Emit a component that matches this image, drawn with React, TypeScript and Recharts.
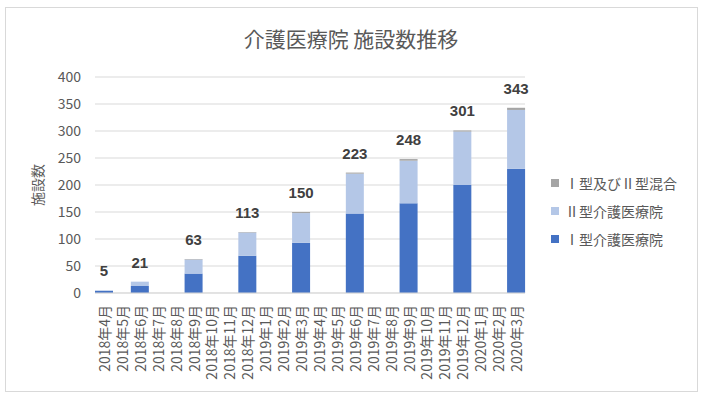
import { BarChart, Bar, XAxis, YAxis, CartesianGrid, LabelList } from "recharts";

const months = [
  "2018年4月", "2018年5月", "2018年6月", "2018年7月", "2018年8月", "2018年9月",
  "2018年10月", "2018年11月", "2018年12月", "2019年1月", "2019年2月", "2019年3月",
  "2019年4月", "2019年5月", "2019年6月", "2019年7月", "2019年8月", "2019年9月",
  "2019年10月", "2019年11月", "2019年12月", "2020年1月", "2020年2月", "2020年3月",
];

const typeI = [4, null, 13, null, null, 36, null, null, 69, null, null, 93, null, null, 147, null, null, 166, null, null, 200, null, null, 230];
const typeII = [1, null, 8, null, null, 26, null, null, 43, null, null, 55, null, null, 74, null, null, 79, null, null, 99, null, null, 109];
const mixed = [0, null, 0, null, null, 1, null, null, 1, null, null, 2, null, null, 2, null, null, 3, null, null, 2, null, null, 4];
const totals = [5, null, 21, null, null, 63, null, null, 113, null, null, 150, null, null, 223, null, null, 248, null, null, 301, null, null, 343];

const yTicks = [0, 50, 100, 150, 200, 250, 300, 350, 400];

const data = months.map((m, i) => ({
  month: m,
  typeI: typeI[i],
  typeII: typeII[i],
  mixed: mixed[i],
  total: totals[i],
}));

const FONT = "'Noto Sans CJK JP', 'Noto Sans', sans-serif";
const GRAY = "#595959";

const legendItems = [
  { label: "Ⅰ型及びⅡ型混合", color: "#A5A5A5" },
  { label: "Ⅱ型介護医療院", color: "#B4C7E7" },
  { label: "Ⅰ型介護医療院", color: "#4472C4" },
];

function MonthTick(props: any) {
  const { x, y, payload } = props;
  return (
    <text
      x={x}
      y={y}
      transform={`rotate(-90, ${x}, ${y})`}
      textAnchor="end"
      dominantBaseline="central"
      fill={GRAY}
      fontSize={14}
      fontFamily={FONT}
    >
      {payload.value}
    </text>
  );
}

// label sits on the typeII segment; lift it by the thin mixed segment above
function TotalLabel(props: any) {
  const { x, y, width, height, value } = props;
  if (value == null) return null;
  const i = totals.indexOf(value);
  const perUnit = i >= 0 && typeII[i] ? height / (typeII[i] as number) : 0;
  const top = y - (i >= 0 ? mixed[i] || 0 : 0) * perUnit;
  return (
    <text
      x={x + width / 2}
      y={top - 14}
      textAnchor="middle"
      fill="#404040"
      fontSize={15}
      fontWeight="bold"
      fontFamily="'Liberation Sans', Arial, sans-serif"
    >
      {value}
    </text>
  );
}

function LegendBox() {
  return (
    <div
      style={{
        position: "absolute",
        left: 551,
        top: 169,
        fontFamily: FONT,
        fontSize: 14,
        color: GRAY,
      }}
    >
      {legendItems.map((it) => (
        <div key={it.label} style={{ display: "flex", alignItems: "center", height: 28 }}>
          <span style={{ width: 8, height: 8, background: it.color, marginRight: 6 }} />
          <span>{it.label}</span>
        </div>
      ))}
    </div>
  );
}

export default function App() {
  return (
    <div style={{ position: "absolute", left: 0, top: 0, width: 707, height: 399, background: "#fff" }}>
      <div
        style={{
          position: "absolute",
          left: 5,
          top: 7,
          width: 691,
          height: 383,
          border: "1px solid #D9D9D9",
        }}
      />
      <div
        style={{
          position: "absolute",
          left: 0,
          width: 702,
          top: 24,
          textAlign: "center",
          fontFamily: FONT,
          fontSize: 21,
          color: GRAY,
          lineHeight: "28px",
        }}
      >
        介護医療院 施設数推移
      </div>
      <div
        style={{
          position: "absolute",
          left: 37,
          top: 185,
          transform: "translate(-50%, -50%) rotate(-90deg)",
          fontFamily: FONT,
          fontSize: 14,
          color: GRAY,
          whiteSpace: "nowrap",
        }}
      >
        施設数
      </div>
      <div style={{ position: "absolute", left: 0, top: 0 }}>
        <BarChart
          width={707}
          height={399}
          data={data}
          margin={{ top: 77, right: 182, bottom: 0, left: 0 }}
          barCategoryGap={0}
        >
          <CartesianGrid vertical={false} stroke="#D9D9D9" />
          <XAxis
            dataKey="month"
            interval={0}
            height={106}
            tick={<MonthTick />}
            tickLine={false}
            tickMargin={6}
            axisLine={{ stroke: "#D9D9D9" }}
          />
          <YAxis
            width={95}
            domain={[0, 400]}
            ticks={yTicks}
            tickLine={false}
            axisLine={false}
            tickMargin={8}
            tick={{ fill: GRAY, fontSize: 14, fontFamily: FONT }}
          />
          <Bar dataKey="typeI" stackId="a" fill="#4472C4" isAnimationActive={false} />
          <Bar dataKey="typeII" stackId="a" fill="#B4C7E7" isAnimationActive={false}>
            <LabelList dataKey="total" content={<TotalLabel />} />
          </Bar>
          <Bar dataKey="mixed" stackId="a" fill="#A5A5A5" isAnimationActive={false} />
        </BarChart>
      </div>
      <LegendBox />
    </div>
  );
}
